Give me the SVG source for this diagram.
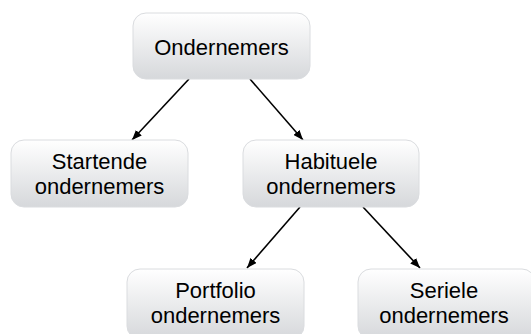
<svg xmlns="http://www.w3.org/2000/svg" width="531" height="334" viewBox="0 0 531 334">
<defs>
<linearGradient id="g" x1="0" y1="0" x2="0" y2="1">
<stop offset="0" stop-color="#ffffff"/>
<stop offset="1" stop-color="#d6d8db"/>
</linearGradient>
<marker id="ah" markerWidth="10" markerHeight="8" refX="10" refY="4" orient="auto" markerUnits="userSpaceOnUse">
<path d="M0,0 L10,4 L0,8 Z" fill="#000"/>
</marker>
<style>
.box{fill:url(#g);stroke:#dadcdf;stroke-width:1}
.t{font-family:"Liberation Sans",Arial,sans-serif;font-size:22px;fill:#000;text-anchor:middle}
.c{stroke:#000;stroke-width:1.6;fill:none;marker-end:url(#ah)}
</style>
</defs>
<rect width="531" height="334" fill="#fff"/>
<g id="connectors">
<line class="c" x1="189" y1="79" x2="132" y2="140"/>
<line class="c" x1="250" y1="79" x2="303" y2="140"/>
<line class="c" x1="300" y1="207" x2="247" y2="268"/>
<line class="c" x1="363" y1="207" x2="420" y2="268"/>
</g>
<g id="n-ondernemers">
<rect class="box" x="133" y="13" width="177" height="66" rx="13"/>
<text class="t" x="221.5" y="55">Ondernemers</text>
</g>
<g id="n-startende">
<rect class="box" x="11" y="140" width="177" height="67" rx="13"/>
<text class="t" x="99.5" y="169">Startende</text>
<text class="t" x="99.5" y="194">ondernemers</text>
</g>
<g id="n-habituele">
<rect class="box" x="243" y="140" width="176" height="67" rx="13"/>
<text class="t" x="331" y="169">Habituele</text>
<text class="t" x="331" y="194">ondernemers</text>
</g>
<g id="n-portfolio">
<rect class="box" x="127" y="269" width="177" height="70" rx="13"/>
<text class="t" x="215.5" y="298">Portfolio</text>
<text class="t" x="215.5" y="323">ondernemers</text>
</g>
<g id="n-seriele">
<rect class="box" x="358" y="269" width="177" height="70" rx="13"/>
<text class="t" x="444" y="298">Seriele</text>
<text class="t" x="444" y="323">ondernemers</text>
</g>
</svg>
